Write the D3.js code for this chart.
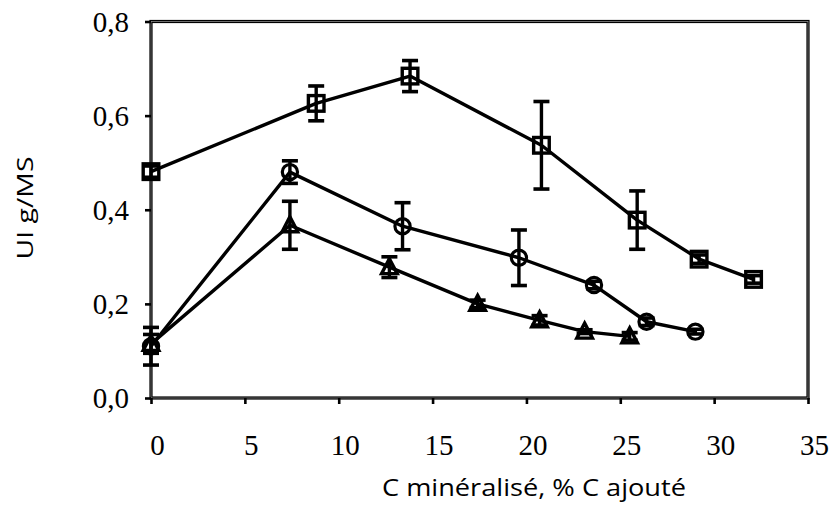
<!DOCTYPE html>
<html>
<head>
<meta charset="utf-8">
<script src="https://cdn.jsdelivr.net/npm/d3@7/dist/d3.min.js"></script>
<style>
  html, body { margin: 0; padding: 0; background: #fff; }
  svg { display: block; }
</style>
</head>
<body>
<svg id="chart" width="829" height="519"></svg>
<script>
// ---- data ----
const xTicks = [0, 5, 10, 15, 20, 25, 30, 35];
const yTicks = [0, 0.2, 0.4, 0.6, 0.8];
const yTickLabels = ["0,0", "0,2", "0,4", "0,6", "0,8"];

const squareX = [0, 8.8, 13.8, 20.8, 25.9, 29.2, 32.1];
const squareY = [0.481, 0.626, 0.684, 0.537, 0.378, 0.295, 0.252];
const squareErr = [0.012, 0.037, 0.033, 0.093, 0.062, 0.009, 0.008];

const circleX = [0, 7.4, 13.4, 19.6, 23.6, 26.4, 29.0];
const circleY = [0.11, 0.48, 0.365, 0.298, 0.24, 0.162, 0.141];
const circleErr = [0.04, 0.024, 0.05, 0.059, 0.008, 0.008, 0.005];

const triangleX = [0, 7.4, 12.7, 17.4, 20.7, 23.1, 25.5];
const triangleY = [0.115, 0.367, 0.278, 0.2, 0.165, 0.141, 0.131];
const triangleErr = [0.02, 0.051, 0.022, 0.008, 0.01, 0.004, 0.008];

const xTitle = "C minéralisé, % C ajouté";
const yTitle = "UI g/MS";

// ---- layout ----
const svg = d3.select("#chart");
const L = 151, R = 808, T = 21.5, B = 398;
const x = d3.scaleLinear().domain([0, 35]).range([L, R]);
const y = d3.scaleLinear().domain([0, 0.8]).range([B, T]);

// plot frame (double-line look)
const frame = svg.append("g");
frame.append("rect").attr("x", L).attr("y", T).attr("width", R - L).attr("height", B - T)
  .attr("fill", "none").attr("stroke", "#000").attr("stroke-width", 3.2);
frame.append("rect").attr("x", L).attr("y", T).attr("width", R - L).attr("height", B - T)
  .attr("fill", "none").attr("stroke", "#9a9a9a").attr("stroke-width", 0.7);

// axes
const xAxis = d3.axisBottom(x).tickValues(xTicks).tickSize(6).tickFormat(d => d);
const gx = svg.append("g").attr("transform", `translate(0,${B})`).call(xAxis);
gx.select(".domain").remove();
gx.selectAll(".tick line").attr("stroke", "#000").attr("stroke-width", 2.6);
gx.selectAll(".tick text")
  .attr("font-family", "'Liberation Serif', 'Times New Roman', serif")
  .attr("font-size", 29).attr("fill", "#000")
  .attr("dx", 6).attr("y", 0).attr("dy", 0)
  .attr("transform", "translate(0,57)");

const yAxis = d3.axisLeft(y).tickValues(yTicks).tickSize(6)
  .tickFormat((d, i) => yTickLabels[i]);
const gy = svg.append("g").attr("transform", `translate(${L},0)`).call(yAxis);
gy.select(".domain").remove();
gy.selectAll(".tick line").attr("stroke", "#000").attr("stroke-width", 2.6);
gy.selectAll(".tick text")
  .attr("font-family", "'Liberation Serif', 'Times New Roman', serif")
  .attr("font-size", 29).attr("fill", "#000")
  .attr("x", -22).attr("dy", "0.34em");

// axis titles
svg.append("text").attr("x", 534).attr("y", 496)
  .attr("text-anchor", "middle")
  .attr("font-family", "'Open Sans', 'Noto Sans', sans-serif")
  .attr("font-size", 23).attr("fill", "#000")
  .attr("textLength", 304).attr("lengthAdjust", "spacingAndGlyphs")
  .text(xTitle);

svg.append("text").attr("transform", "translate(33,208) rotate(-90)")
  .attr("text-anchor", "middle")
  .attr("font-family", "'Open Sans', 'Noto Sans', sans-serif")
  .attr("font-size", 22).attr("fill", "#000")
  .attr("textLength", 103).attr("lengthAdjust", "spacingAndGlyphs")
  .text(yTitle);

// ---- series ----
function series(xs, ys, es, shape) {
  const pts = xs.map((v, i) => ({ x: v, y: ys[i], e: es[i] }));
  const g = svg.append("g");
  g.append("path").datum(pts)
    .attr("fill", "none").attr("stroke", "#000").attr("stroke-width", 3.4)
    .attr("stroke-linejoin", "round")
    .attr("d", d3.line().x(d => x(d.x)).y(d => y(d.y)));

  const m = g.selectAll(".m").data(pts).enter().append("g")
    .attr("transform", d => `translate(${x(d.x)},${y(d.y)})`);
  if (shape === "square") {
    m.append("rect").attr("x", -7.8).attr("y", -7.8).attr("width", 15.6).attr("height", 15.6)
      .attr("fill", "none").attr("stroke", "#000").attr("stroke-width", 3.4);
  } else if (shape === "circle") {
    m.append("circle").attr("r", 7.6)
      .attr("fill", "none").attr("stroke", "#000").attr("stroke-width", 3.2);
  } else {
    m.append("path").attr("d", "M0,-8.5 L7.8,6.5 L-7.8,6.5 Z")
      .attr("fill", "none").attr("stroke", "#000").attr("stroke-width", 3.4)
      .attr("stroke-linejoin", "miter");
  }

  // error bars
  const eb = g.selectAll(".e").data(pts).enter().append("g");
  eb.append("line")
    .attr("x1", d => x(d.x)).attr("x2", d => x(d.x))
    .attr("y1", d => y(d.y + d.e)).attr("y2", d => y(d.y - d.e))
    .attr("stroke", "#000").attr("stroke-width", 3.4);
  [1, -1].forEach(s => {
    eb.append("line")
      .attr("x1", d => x(d.x) - 8).attr("x2", d => x(d.x) + 8)
      .attr("y1", d => y(d.y + s * d.e)).attr("y2", d => y(d.y + s * d.e))
      .attr("stroke", "#000").attr("stroke-width", 3.6);
  });
}

series(squareX, squareY, squareErr, "square");
series(circleX, circleY, circleErr, "circle");
series(triangleX, triangleY, triangleErr, "triangle");
</script>
</body>
</html>
